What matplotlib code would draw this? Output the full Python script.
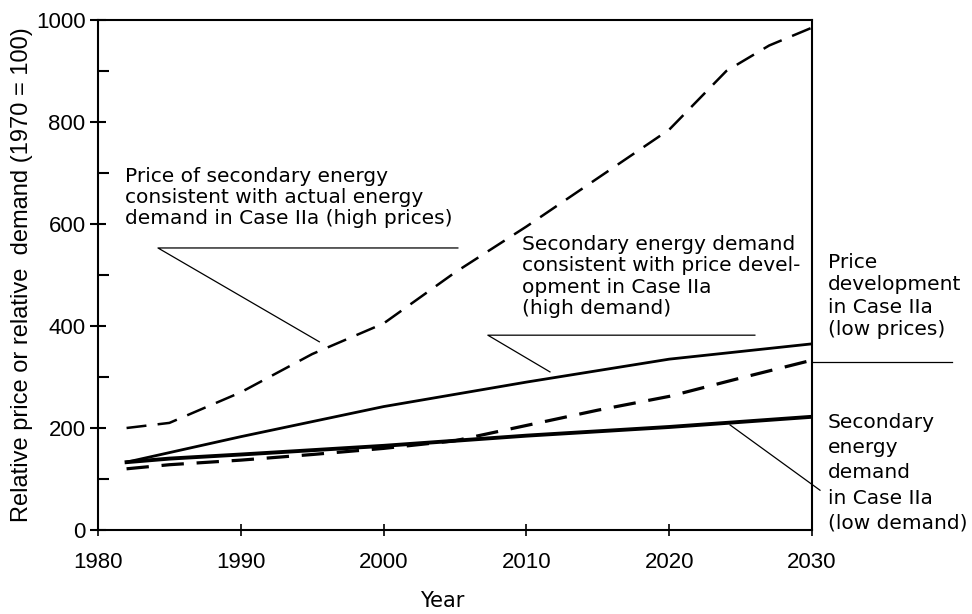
import matplotlib.pyplot as plt

# projected series, index 1970 = 100
years_high_price = [1982, 1985, 1990, 1995, 2000, 2005, 2010, 2015, 2020, 2024, 2027, 2030]
high_price = [200, 210, 270, 345, 405, 505, 595, 690, 785, 900, 950, 985]

years_high_demand = [1982, 1990, 2000, 2010, 2020, 2030]
high_demand = [133, 183, 242, 290, 335, 365]

years_low_price = [1982, 1985, 1990, 1995, 2000, 2005, 2010, 2015, 2020, 2025, 2030]
low_price = [120, 128, 137, 148, 160, 175, 205, 235, 262, 298, 333]

years_low_demand = [1982, 1985, 1990, 2000, 2010, 2020, 2030]
low_demand = [133, 140, 148, 165, 185, 202, 222]

x_ticks = [1980, 1990, 2000, 2010, 2020, 2030]
y_ticks = [0, 200, 400, 600, 800, 1000]
y_minor = [100, 300, 500, 700, 900]

tick_font = 'Liberation Sans'
note_font = 'DejaVu Sans'

fig = plt.figure(figsize=(9.72, 6.14), dpi=100)
ax = fig.add_axes([98 / 972, 84 / 614, 714 / 972, 510 / 614])

ax.plot(years_high_price, high_price, color='black', lw=1.8, dashes=(8, 4.5))
ax.plot(years_high_demand, high_demand, color='black', lw=2.0)
ax.plot(years_low_price, low_price, color='black', lw=2.3, dashes=(7, 4))
ax.plot(years_low_demand, low_demand, color='black', lw=2.8)

ax.set_xlim(1980, 2030)
ax.set_ylim(0, 1000)
ax.set_xticks(x_ticks)
ax.set_yticks(y_ticks)
ax.set_yticks(y_minor, minor=True)
ax.tick_params(axis='y', which='major', direction='inout', length=12, width=1.5, pad=3)
ax.tick_params(axis='y', which='minor', direction='in', length=8, width=1.5)
ax.tick_params(axis='x', which='major', direction='inout', length=9, width=1.2, pad=11)
for lab in ax.get_xticklabels() + ax.get_yticklabels():
    lab.set_fontfamily(tick_font)
    lab.set_fontsize(16)
for sp in ax.spines.values():
    sp.set_linewidth(1.5)

fig.text(22 / 972, 1 - 275 / 614, 'Relative price or relative  demand (1970 = 100)',
         rotation=90, ha='center', va='center', fontsize=17, family=tick_font)
fig.text(442 / 972, 1 - 601 / 614, 'Year', ha='center', va='center', fontsize=15, family=note_font)

note = dict(fontsize=14.5, family=note_font, va='top', ha='left', linespacing=1.15)
leader = dict(color='black', lw=0.9, clip_on=False)

# high prices
ax.text(1981.9, 712, 'Price of secondary energy\nconsistent with actual energy\ndemand in Case IIa (high prices)', **note)
ax.plot([2005.2, 1984.2, 1995.5], [553, 553, 369], **leader)

# high demand
ax.text(2009.7, 578, 'Secondary energy demand\nconsistent with price devel-\nopment in Case IIa\n(high demand)', **note)
ax.plot([2026.0, 2007.3, 2011.65], [382, 382, 310], **leader)

# low prices
note_right = dict(note, linespacing=1.22)
ax.text(2031.1, 543, 'Price\ndevelopment\nin Case IIa\n(low prices)', **note_right)
ax.plot([2030, 2039.8], [329, 329], **leader)

# low demand
note_low = dict(note, linespacing=1.42)
ax.text(2031.1, 230, 'Secondary\nenergy\ndemand\nin Case IIa\n(low demand)', **note_low)
ax.plot([2024.26, 2030.56], [206, 78], **leader)

fig.savefig('out.png', dpi=100)
